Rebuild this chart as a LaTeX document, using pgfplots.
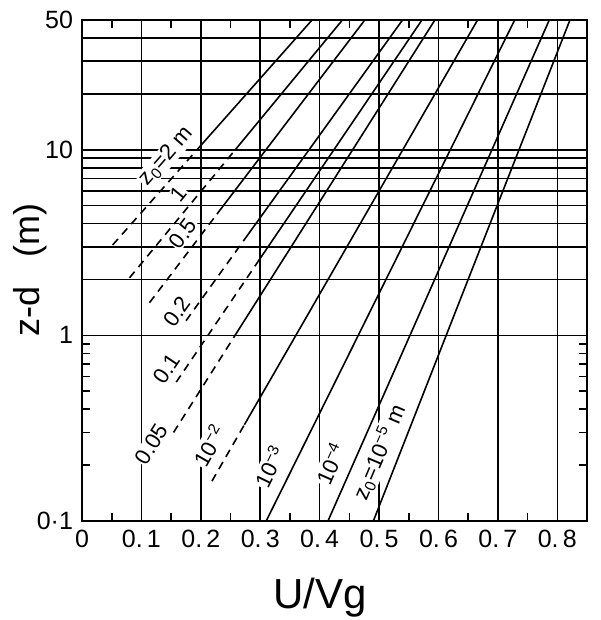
\documentclass[border=0pt]{standalone}
\usepackage{pgfplots}
\pgfplotsset{compat=1.18}
\usepackage{fontspec}
\setmainfont{Liberation Sans}
\begin{document}
\begin{tikzpicture}
\useasboundingbox (-41pt,-49.5pt) rectangle (259pt,260.5pt);
\begin{axis}[
  at={(0,0)}, anchor=south west, scale only axis,
  width=252.5pt, height=250.5pt,
  xmin=0, xmax=0.85, ymin=0.1, ymax=50, ymode=log,
  axis line style={line width=1.1pt},
  xtick={0,0.1,0.2,0.3,0.4,0.5,0.6,0.7,0.8},
  xticklabels={0,0.\,1,0.\,2,0.\,3,0.\,4,0.\,5,0.\,6,0.\,7,0.\,8},
  minor xtick={0.05,0.15,0.25,0.35,0.45,0.55,0.65,0.75},
  ytick={0.1,1,10,50}, yticklabels={0·1,1,10,50},
  minor ytick={0.2,0.3,0.4,0.5,0.6,0.7,0.8,0.9},
  extra y ticks={2,3,4,5,6,7,8,9,20,30,40},
  extra y tick labels={},
  extra y tick style={grid=major, major tick length=0pt},
  xmajorgrids, ymajorgrids,
  major grid style={black, line width=0.8pt},
  tick align=inside,
  major tick length=0pt,
  minor tick length=4pt,
  tick style={black, line width=0.8pt},
  /pgf/number format/assume math mode=true,
  xticklabel style={font=\fontsize{12.5}{14}\selectfont, yshift=-1pt},
  yticklabel style={font=\fontsize{12.5}{14}\selectfont, xshift=-1pt},
  cycle list={{black, solid}},
  no markers,
  every axis plot/.append style={black, line width=0.8pt},
  dsh/.style={black, dash pattern=on 4pt off 3pt},
  sld/.style={black, solid},
]
% labels (white background breaks the grid as in the reference)
\begin{scope}[every node/.style={fill=white, inner sep=0.5pt, font=\fontsize{11}{12}\selectfont}]
\node[rotate=49] at (axis cs:0.142,9.2) {z\textsubscript{0}=2 m};
\node[rotate=51] at (axis cs:0.163,5.8) {1};
\node[rotate=53] at (axis cs:0.170,3.55) {0.5};
\node[rotate=54] at (axis cs:0.160,1.34) {0.2};
\node[rotate=56] at (axis cs:0.143,0.66) {0.1};
\node[rotate=58] at (axis cs:0.117,0.26) {0.05};
\node[rotate=60] at (axis cs:0.214,0.255) {10\textsuperscript{−2}};
\node[rotate=64] at (axis cs:0.316,0.197) {10\textsuperscript{−3}};
\node[rotate=66] at (axis cs:0.418,0.204) {10\textsuperscript{−4}};
\node[rotate=67] at (axis cs:0.500,0.235) {z\textsubscript{0}=10\textsuperscript{−5} m};
\end{scope}
% z0 = 2 m
\addplot[dsh] coordinates {(0.0516,3.07) (0.1936,10)};
\addplot[sld] coordinates {(0.1936,10) (0.3872,50)};
% z0 = 1 m
\addplot[dsh] coordinates {(0.0799,2.04) (0.258,10)};
\addplot[sld] coordinates {(0.258,10) (0.4383,50)};
% z0 = 0.5 m
\addplot[dsh] coordinates {(0.1136,1.5) (0.2271,4.5)};
\addplot[sld] coordinates {(0.2271,4.5) (0.476,50)};
% z0 = 0.2 m
\addplot[dsh] coordinates {(0.1751,1.2) (0.2739,3.3)};
\addplot[sld] coordinates {(0.2739,3.3) (0.5395,50)};
% z0 = 0.1 m
\addplot[dsh] coordinates {(0.1586,0.56) (0.2964,2.5)};
\addplot[sld] coordinates {(0.2964,2.5) (0.5722,50)};
% z0 = 0.05 m
\addplot[dsh] coordinates {(0.1541,0.3) (0.2576,1.0)};
\addplot[sld] coordinates {(0.2576,1.0) (0.594,50)};
% z0 = 0.01 m
\addplot[dsh] coordinates {(0.2187,0.164) (0.2733,0.33)};
\addplot[sld] coordinates {(0.2733,0.33) (0.6658,50)};
% z0 = 1e-3 m
\addplot[sld] coordinates {(0.31,0.1) (0.7283,50)};
% z0 = 1e-4 m
\addplot[sld] coordinates {(0.414,0.1) (0.7865,50)};
% z0 = 1e-5 m
\addplot[sld] coordinates {(0.4904,0.1) (0.8213,50)};
\end{axis}
\node at (119pt,-38.5pt) {\fontsize{21}{24}\selectfont U/Vg};
\node[rotate=90] at (-26pt,125.5pt) {\fontsize{18}{20}\selectfont z-d\hspace{0.8em}(m)};
\end{tikzpicture}
\end{document}
